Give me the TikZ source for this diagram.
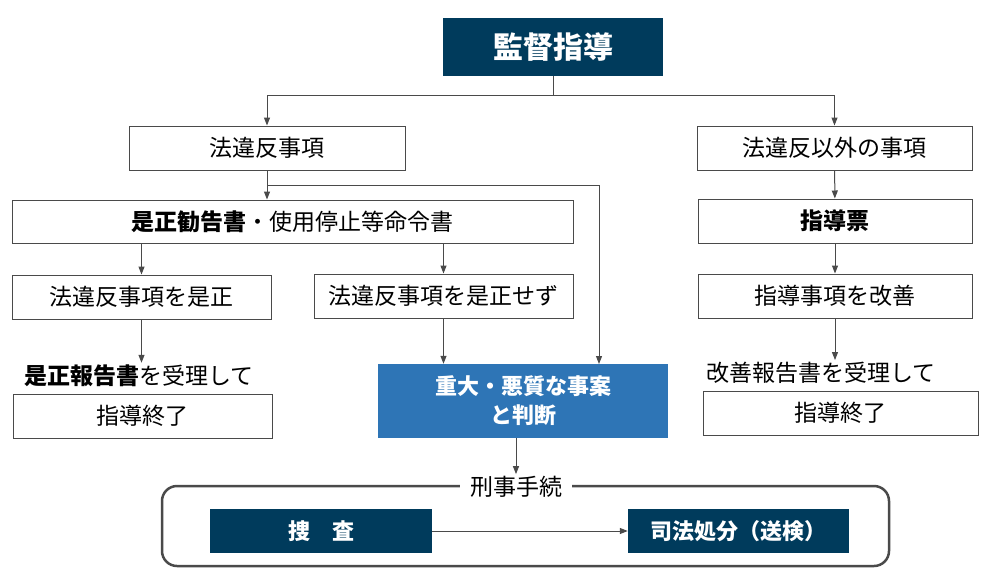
\documentclass[tikz,border=0pt]{standalone}
\usepackage{fontspec}
\setmainfont{Noto Sans CJK JP}
\usetikzlibrary{positioning, calc, arrows.meta}
\definecolor{navy}{HTML}{003B5C}
\definecolor{steel}{HTML}{2E75B6}
\definecolor{lineg}{HTML}{4A4A4A}

\begin{document}
\begin{tikzpicture}[x=1pt, y=-1pt,
		font=\fontsize{23}{27}\selectfont,
		box/.style={draw=lineg, line width=1pt, inner sep=0pt, minimum height=44pt},
		dark/.style={fill=navy, text=white, inner sep=0pt, minimum height=44pt, font=\fontsize{22}{26}\selectfont\bfseries},
		arr/.style={draw=lineg, line width=1pt, -{Triangle[width=6pt, length=8pt]}},
		lnk/.style={draw=lineg, line width=1pt}]
		\useasboundingbox (0,0) rectangle (986,574);
		% top level
		\node[dark, minimum width=220pt, minimum height=58pt, font=\fontsize{30}{34}\selectfont\bfseries] (top) at (553,47) {監督指導};
		\node[box, minimum width=276pt] (ihan) at (267,148) {法違反事項};
		\node[box, minimum width=275pt] (igai) at (834.5,148) {法違反以外の事項};
		% left branch
		\node[box, minimum width=561pt, minimum height=43pt] (kankoku) at (292.5,221.5) {\textbf{是正勧告書}・使用停止等命令書};
		\node[box, minimum width=259pt] (zesei) at (141.5,297) {法違反事項を是正};
		\node[box, minimum width=259pt] (sezu) at (443.5,296) {法違反事項を是正せず};
		\node[inner sep=2pt] (rep1) at (139,376) {\textbf{是正報告書}を受理して};
		\node[box, minimum width=259pt] (end1) at (142.5,416) {指導終了};
		\node[fill=steel, text=white, minimum width=290pt, minimum height=74pt, inner sep=0pt, align=center,
			font=\fontsize{22}{29}\selectfont\bfseries] (judai) at (523,401) {重大・悪質な事案\\と判断};
		% right branch
		\node[box, minimum width=274pt] (hyo) at (835,221) {\textbf{指導票}};
		\node[box, minimum width=274pt] (kaizen) at (835,296) {指導事項を改善};
		\node[inner sep=2pt] (rep2) at (821,373) {改善報告書を受理して};
		\node[box, minimum width=275pt] (end2) at (840.5,413) {指導終了};
		% criminal procedure
		\draw[draw=lineg, line width=2.5pt, rounded corners=15pt] (162,486) rectangle (889,566);
		\node[fill=white, inner xsep=10pt, inner ysep=2pt] (keiji) at (516,487) {刑事手続};
		\node[dark, minimum width=222pt] (sousa) at (321,531) {捜\hspace{1em}査};
		\node[dark, minimum width=221pt] (shiho) at (738.5,531) {司法処分（送検）};
		% connectors
		\coordinate (split) at (553,95);
		\coordinate (brA) at (267,185);
		\coordinate (brB) at (599,364);
		\draw[lnk] (top) -- (split);
		\draw[arr] (split) -| (ihan);
		\draw[arr] (split) -| (igai);
		\draw[arr] (ihan.south) -- (ihan.south |- kankoku.north);
		\draw[arr] (brA) -| (brB);
		\draw[arr] (zesei.north |- kankoku.south) -- (zesei.north);
		\draw[arr] (sezu.north |- kankoku.south) -- (sezu.north);
		\draw[arr] (zesei.south) -- (zesei.south |- rep1.north);
		\draw[arr] (sezu.south) -- (sezu.south |- judai.north);
		\draw[arr] (igai) -- (hyo);
		\draw[arr] (hyo) -- (kaizen);
		\draw[arr] (kaizen.south) -- (kaizen.south |- rep2.north);
		\draw[arr] (keiji.north |- judai.south) -- (keiji.north);
		\draw[arr] (sousa) -- (shiho);
	\end{tikzpicture}
\end{document}
